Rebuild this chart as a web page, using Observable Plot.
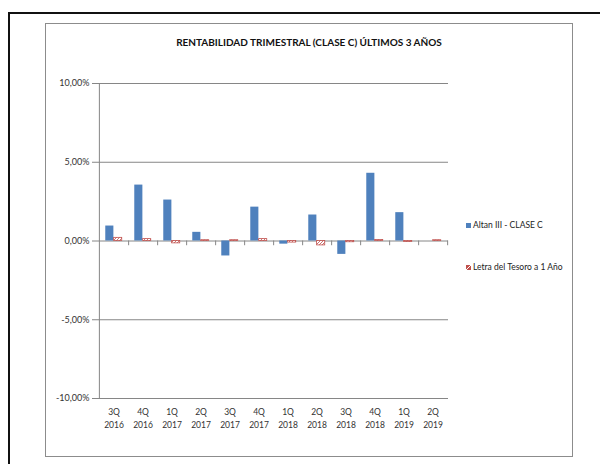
<!DOCTYPE html>
<html>
<head>
<meta charset="utf-8">
<script src="https://cdn.jsdelivr.net/npm/d3@7"></script>
<script src="https://cdn.jsdelivr.net/npm/@observablehq/plot@0.6"></script>
<style>
  html, body { margin: 0; padding: 0; background: #fff; }
  #wrap { position: relative; width: 600px; height: 464px; overflow: hidden; font-family: Lato, "Open Sans", sans-serif; color: #333; }
  #outer { position: absolute; left: 8px; top: 12px; width: 620px; height: 480px; border-left: 2px solid #111; border-top: 2px solid #111; }
  #inner { position: absolute; left: 45px; top: 23px; width: 526px; height: 432px; border: 1px solid #8c8c8c; }
  #chart { position: absolute; left: 0; top: 0; }
  #title { position: absolute; left: 45px; width: 528px; top: 36px; text-align: center; font-weight: bold; font-size: 10px; color: #111; }
  .leg { position: absolute; left: 466px; font-size: 8.5px; color: #222; white-space: nowrap; display: flex; align-items: center; }
  .sw { width: 5px; height: 5px; margin-right: 2px; display: inline-block; }
</style>
</head>
<body>
<div id="wrap">
  <div id="outer"></div>
  <div id="inner"></div>
  <div id="chart"></div>
  <div id="title">RENTABILIDAD TRIMESTRAL (CLASE C) ÚLTIMOS 3 AÑOS</div>
  <div class="leg" style="top:220px"><span class="sw" style="background:#4F81BD"></span>Altan III - CLASE C</div>
  <div class="leg" style="top:262px"><svg class="sw" width="5" height="5" viewBox="0 0 5 5"><rect width="5" height="5" fill="#C0504D"/><path d="M0,5L5,0" stroke="#fff" stroke-width="1"/></svg>Letra del Tesoro a 1 Año</div>
</div>
<script>
// Quarterly returns, in percent
const quarters = ["3Q 2016", "4Q 2016", "1Q 2017", "2Q 2017", "3Q 2017", "4Q 2017",
                  "1Q 2018", "2Q 2018", "3Q 2018", "4Q 2018", "1Q 2019", "2Q 2019"];
const altan = [0.95, 3.55, 2.6, 0.55, -0.95, 2.15, -0.2, 1.65, -0.85, 4.3, 1.8, 0.0];
const letra = [0.2, 0.12, -0.15, 0.05, 0.05, 0.12, -0.1, -0.28, -0.08, 0.06, -0.06, 0.05];
const yTicks = [-10, -5, 0, 5, 10];

const blue = "#4F81BD";
const red = "#C0504D";
const gray = "#868686";

const W = 600, H = 464;
const mL = 97, mR = 152, mT = 83, mB = 66;
const bw = (W - mL - mR) / quarters.length;  // category band width
const barW = bw / 3.5;                         // two bars + 150% gap

const altanData = quarters.map((q, i) => ({q, v: altan[i]}));
const letraData = quarters.map((q, i) => ({q, v: letra[i]}));
const fmt = d => d.toFixed(2).replace(".", ",") + "%";

const chart = Plot.plot({
  width: W,
  height: H,
  marginLeft: mL,
  marginRight: mR,
  marginTop: mT,
  marginBottom: mB,
  style: {fontFamily: "Lato, 'Open Sans', sans-serif", fontSize: "8.5px", color: "#333", background: "transparent"},
  x: {domain: quarters, padding: 0},
  y: {domain: [-10, 10]},
  marks: [
    Plot.ruleY(yTicks, {stroke: gray, strokeWidth: 1}),
    Plot.barY(altanData, {x: "q", y: "v", fill: blue, insetLeft: 0.75 * barW, insetRight: 1.75 * barW}),
    Plot.barY(letraData, {x: "q", y: "v", fill: "url(#hatch)", stroke: red, strokeWidth: 0.8,
                          insetLeft: 1.75 * barW, insetRight: 0.75 * barW}),
    // vertical axis line and category boundary ticks on the zero line
    Plot.ruleX([quarters[0]], {x: d => d, y1: -10, y2: 10, dx: -bw / 2, stroke: gray}),
    Plot.ruleX(quarters, {x: d => d, y1: 0, y2: -0.3, dx: bw / 2, stroke: gray}),
    Plot.axisY({ticks: yTicks, tickFormat: fmt, tickSize: 5, tickPadding: 3, stroke: gray, fontSize: 9, label: null}),
    Plot.axisX({tickSize: 0, tickPadding: 8, lineHeight: 1.45, tickFormat: d => d.replace(" ", "\n"), label: null})
  ]
});

// diagonal hatch for the treasury bill series
const defs = d3.select(chart).insert("defs", ":first-child");
const pat = defs.append("pattern").attr("id", "hatch").attr("patternUnits", "userSpaceOnUse")
  .attr("width", 3).attr("height", 3);
pat.append("rect").attr("width", 3).attr("height", 3).attr("fill", "#fff");
pat.append("path").attr("d", "M-1,1L1,-1M0,3L3,0M2,4L4,2").attr("stroke", red).attr("stroke-width", 0.8);

document.getElementById("chart").appendChild(chart);
</script>
</body>
</html>
